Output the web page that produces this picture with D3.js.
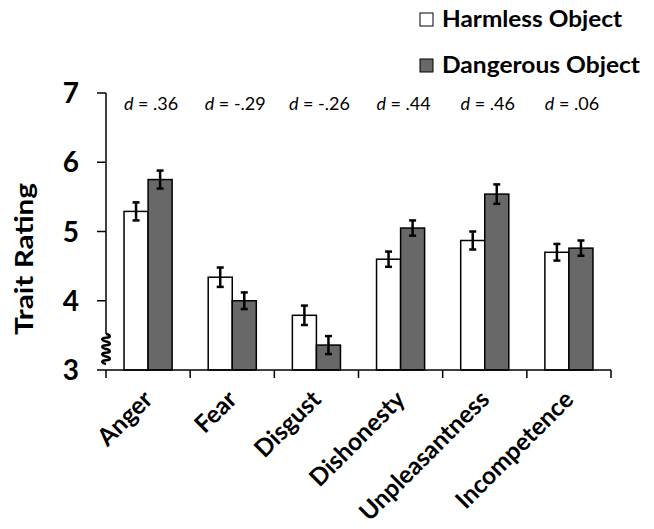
<!DOCTYPE html>
<html>
<head>
<meta charset="utf-8">
<script src="https://cdn.jsdelivr.net/npm/d3@7"></script>
<style>
  body { margin: 0; background: #fff; }
  text { font-family: Lato, "Open Sans", sans-serif; fill: #000; }
</style>
</head>
<body>
<div id="chart"></div>
<script>
// data
const categories = ['Anger', 'Fear', 'Disgust', 'Dishonesty', 'Unpleasantness', 'Incompetence'];
const seriesNames = ['Harmless Object', 'Dangerous Object'];
const harmless = [5.29, 4.34, 3.79, 4.60, 4.87, 4.70];
const dangerous = [5.75, 4.00, 3.36, 5.05, 5.54, 4.76];
const harmlessErr = [0.13, 0.14, 0.14, 0.11, 0.13, 0.12];
const dangerousErr = [0.13, 0.12, 0.13, 0.11, 0.14, 0.11];
const effectSizes = ['.36', '-.29', '-.26', '.44', '.46', '.06'];
const yTicks = [3, 4, 5, 6, 7];

const width = 654, height = 529;
const colors = { 'Harmless Object': '#ffffff', 'Dangerous Object': '#686868' };
const legendWidths = [180, 198];

const svg = d3.select('#chart').append('svg')
  .attr('width', width)
  .attr('height', height);

const x = d3.scaleBand().domain(categories).range([106, 611]);
const x1 = d3.scaleBand().domain(seriesNames).range([0, x.bandwidth()]).paddingOuter(0.75);
const y = d3.scaleLinear().domain([3, 7]).range([370, 93]);

const rows = categories.map((c, i) => ({
  cat: c,
  d: effectSizes[i],
  vals: [
    { s: seriesNames[0], v: harmless[i], e: harmlessErr[i] },
    { s: seriesNames[1], v: dangerous[i], e: dangerousErr[i] }
  ]
}));

// bars
const groups = svg.append('g').selectAll('g')
  .data(rows)
  .enter().append('g')
  .attr('transform', d => `translate(${x(d.cat)},0)`);

groups.selectAll('rect')
  .data(d => d.vals)
  .enter().append('rect')
  .attr('x', d => x1(d.s))
  .attr('y', d => y(d.v))
  .attr('width', x1.bandwidth())
  .attr('height', d => y(3) - y(d.v))
  .attr('fill', d => colors[d.s])
  .attr('stroke', '#000')
  .attr('stroke-width', 1.5);

// error bars
const err = groups.selectAll('g.err')
  .data(d => d.vals)
  .enter().append('g')
  .attr('class', 'err')
  .attr('stroke', '#000')
  .attr('stroke-width', 2.5);

err.append('line')
  .attr('x1', d => x1(d.s) + x1.bandwidth() / 2)
  .attr('x2', d => x1(d.s) + x1.bandwidth() / 2)
  .attr('y1', d => y(d.v + d.e))
  .attr('y2', d => y(d.v - d.e));
err.selectAll('line.cap')
  .data(d => [{ c: x1(d.s) + x1.bandwidth() / 2, yy: y(d.v + d.e) }, { c: x1(d.s) + x1.bandwidth() / 2, yy: y(d.v - d.e) }])
  .enter().append('line')
  .attr('class', 'cap')
  .attr('x1', d => d.c - 3.5)
  .attr('x2', d => d.c + 3.5)
  .attr('y1', d => d.yy)
  .attr('y2', d => d.yy);

// effect size labels
const dLabels = svg.append('g').selectAll('text')
  .data(rows)
  .enter().append('text')
  .attr('x', d => x(d.cat) + x.bandwidth() / 2 + 3)
  .attr('y', 110)
  .attr('text-anchor', 'middle')
  .style('font-size', '18px');
dLabels.append('tspan').style('font-style', 'italic').text('d');
dLabels.append('tspan').text(d => ' = ' + d.d);

// y axis
const yAxis = svg.append('g');
yAxis.append('line')
  .attr('x1', x.range()[0]).attr('x2', x.range()[0])
  .attr('y1', y(7)).attr('y2', 334)
  .attr('stroke', '#000').attr('stroke-width', 1.5);
yAxis.selectAll('line.tick')
  .data(yTicks.filter(t => t > 3))
  .enter().append('line')
  .attr('class', 'tick')
  .attr('x1', x.range()[0] - 9).attr('x2', x.range()[0])
  .attr('y1', d => y(d)).attr('y2', d => y(d))
  .attr('stroke', '#000').attr('stroke-width', 1.5);
yAxis.selectAll('text')
  .data(yTicks)
  .enter().append('text')
  .attr('x', 79)
  .attr('y', d => y(d))
  .attr('dy', '0.36em')
  .attr('text-anchor', 'end')
  .style('font-size', '28px')
  .style('font-weight', 'bold')
  .text(d => d);

// axis break squiggle
const sx = x.range()[0];
const squiggle = d3.path();
squiggle.moveTo(sx, 334);
for (let k = 0; k < 4; k++) {
  const y0 = 334 + k * 7.5;
  squiggle.bezierCurveTo(sx + 5, y0 + 1, sx + 5, y0 + 3.5, sx, y0 + 3.75);
  squiggle.bezierCurveTo(sx - 5, y0 + 4, sx - 5, y0 + 6.5, sx, y0 + 7.5);
}
svg.append('path')
  .attr('d', squiggle.toString())
  .attr('fill', 'none')
  .attr('stroke', '#000')
  .attr('stroke-width', 2.5);

svg.append('text')
  .attr('transform', 'translate(33,259) rotate(-90)')
  .attr('text-anchor', 'middle')
  .attr('textLength', 152)
  .attr('lengthAdjust', 'spacingAndGlyphs')
  .style('font-size', '25px')
  .style('font-weight', 'bold')
  .text('Trait Rating');

// x axis
const xAxis = svg.append('g');
xAxis.append('line')
  .attr('x1', 97).attr('x2', x.range()[1])
  .attr('y1', y(3)).attr('y2', y(3))
  .attr('stroke', '#000').attr('stroke-width', 1.5);
xAxis.selectAll('line.tick')
  .data(categories.map(c => x(c)).concat([x.range()[1]]))
  .enter().append('line')
  .attr('class', 'tick')
  .attr('x1', d => d).attr('x2', d => d)
  .attr('y1', y(3)).attr('y2', y(3) + 8)
  .attr('stroke', '#000').attr('stroke-width', 1.5);
xAxis.selectAll('text')
  .data(categories)
  .enter().append('text')
  .attr('transform', d => `translate(${x(d) + x.bandwidth() / 2 + 6},401) rotate(-45)`)
  .attr('text-anchor', 'end')
  .style('font-size', '24.5px')
  .style('font-weight', 'bold')
  .text(d => d);

// legend
const legend = svg.append('g').selectAll('g')
  .data(seriesNames)
  .enter().append('g')
  .attr('transform', (d, i) => `translate(420,${13 + i * 46})`);
legend.append('rect')
  .attr('width', 13).attr('height', 13)
  .attr('fill', d => colors[d])
  .attr('stroke', '#000').attr('stroke-width', 1);
legend.append('text')
  .attr('x', 22).attr('y', 14)
  .attr('textLength', (d, i) => legendWidths[i])
  .attr('lengthAdjust', 'spacingAndGlyphs')
  .style('font-size', '22px')
  .style('font-weight', 'bold')
  .text(d => d);
</script>
</body>
</html>
